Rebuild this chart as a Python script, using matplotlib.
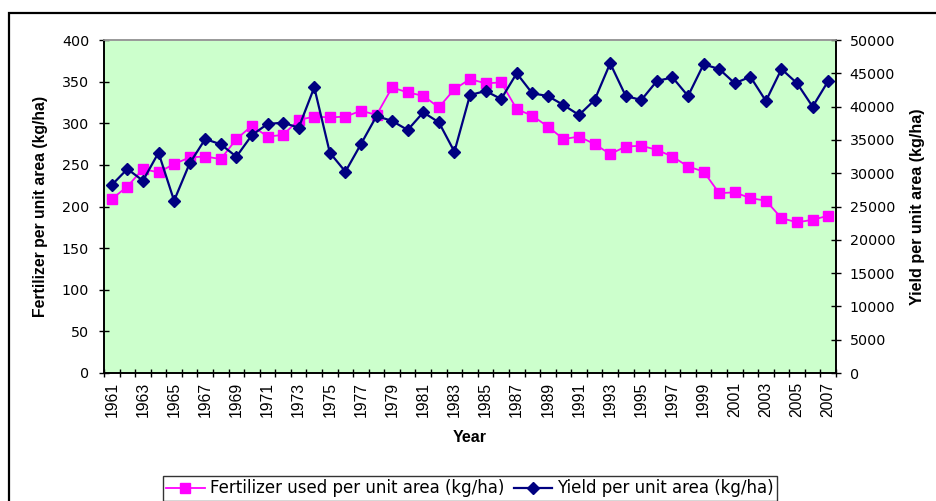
import matplotlib
matplotlib.use("Agg")
import matplotlib.pyplot as plt
from matplotlib.patches import Rectangle
import numpy as np

years = list(range(1961, 2008))
fertilizer = [209, 224, 245, 241, 251, 259, 260, 257, 281, 297, 284, 286, 304, 308, 307, 308,
              315, 310, 343, 337, 333, 319, 341, 353, 348, 349, 317, 309, 296, 281, 284, 275,
              263, 272, 273, 268, 260, 248, 242, 216, 217, 210, 207, 186, 181, 184, 189]
yield_ = [28230, 30630, 28880, 33080, 25870, 31480, 35130, 34330, 32480, 35730, 37390, 37590,
          36830, 42890, 33080, 30230, 34380, 38590, 37840, 36490, 39140, 37640, 33230, 41740,
          42340, 41140, 45000, 41990, 41590, 40240, 38740, 40990, 46500, 41590, 40990, 43840,
          44390, 41590, 46350, 45640, 43500, 44490, 40840, 45640, 43500, 39990, 43840]
left_ticks = list(range(0, 401, 50))
right_ticks = list(range(0, 50001, 5000))

plt.rcParams['font.family'] = ['Liberation Sans', 'DejaVu Sans']
WIDE = ['DejaVu Sans']

W, H = 936, 501
fig = plt.figure(figsize=(W / 100, H / 100), dpi=100)
fig.patch.set_facecolor('white')

# outer chart border
fig.add_artist(Rectangle((9 / W, -0.1), 1.2, 1 - 13 / H + 0.1, transform=fig.transFigure,
                         fill=False, edgecolor='black', linewidth=1.6))

ax = fig.add_axes([104 / W, 1 - 373 / H, (836 - 104) / W, (373 - 40) / H])
ax.set_facecolor('#CCFFCC')
ax2 = ax.twinx()

x = np.arange(len(years))
l1, = ax.plot(x, fertilizer, color='#FF00FF', marker='s', markersize=7.5, linewidth=1.3,
              markeredgecolor='#FF00FF', label='Fertilizer used per unit area (kg/ha)', zorder=3)
l2, = ax2.plot(x, yield_, color='#000080', marker='D', markersize=6.5, linewidth=1.6,
               markeredgecolor='#000080', label='Yield per unit area (kg/ha)', zorder=4)

ax.set_xlim(-0.5, len(years) - 0.5)
ax.set_ylim(0, 400)
ax2.set_ylim(0, 50000)
ax.set_yticks(left_ticks)
ax2.set_yticks(right_ticks)
for t in ax.get_yticklabels() + ax2.get_yticklabels():
    t.set_family(WIDE)
    t.set_fontsize(10.3)

ax.set_xticks(np.arange(len(years) + 1) - 0.5)
ax.set_xticklabels([])
ax.set_xticks(x[::2], minor=True)
ax.set_xticklabels([str(y) for y in years[::2]], minor=True, rotation=90, fontsize=11.3)
ax.tick_params(axis='x', which='major', direction='inout', length=5.2, width=1)
ax.tick_params(axis='x', which='minor', length=0, pad=6.5)
ax.tick_params(axis='y', direction='inout', length=7.5, width=1, pad=7)
ax2.tick_params(axis='y', direction='inout', length=7.5, width=1, pad=6)

for a in (ax, ax2):
    for s in a.spines.values():
        s.set_color('#999999')
        s.set_linewidth(1.2)
    a.spines['left'].set_color('black')
    a.spines['right'].set_color('black')
    a.spines['bottom'].set_color('black')

ax.set_ylabel('Fertilizer per unit area (kg/ha)', fontsize=11.3, fontweight='bold')
ax.yaxis.set_label_coords(-56 / (836 - 104), 0.5)
ax2.set_ylabel('Yield per unit area (kg/ha)', fontsize=11.6, fontweight='bold', rotation=90)
ax2.yaxis.set_label_coords(1 + 74 / (836 - 104), 0.5)
ax.set_xlabel('Year', fontsize=11.5, fontweight='bold')
ax.xaxis.set_label_coords(0.5, -(430 - 373) / (373 - 40))

leg = fig.legend(handles=[l1, l2], loc='upper center', bbox_to_anchor=(470 / W, 1 - 476 / H),
                 ncol=2, frameon=True, fancybox=False, edgecolor='black',
                 prop={'family': WIDE, 'size': 12},
                 handlelength=2.3, handletextpad=0.3, columnspacing=0.6, borderpad=0.2,
                 borderaxespad=0)
leg.get_frame().set_linewidth(1.0)

fig.savefig('out.png', dpi=100)
